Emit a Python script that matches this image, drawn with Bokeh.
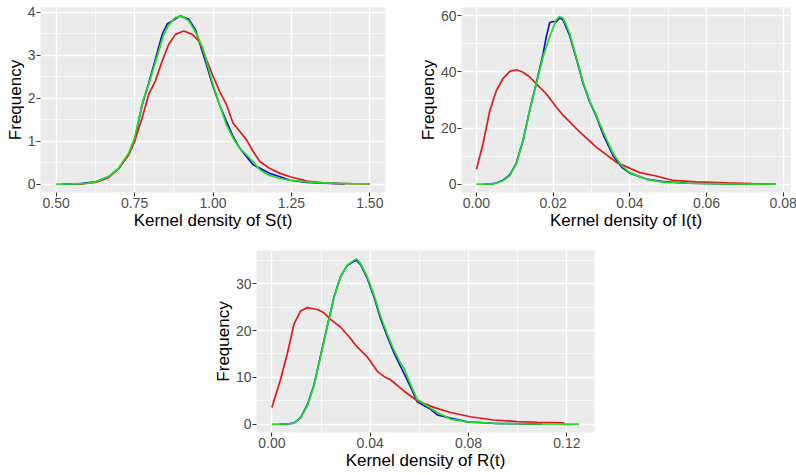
from bokeh.plotting import figure
from bokeh.models import Range1d, FixedTicker, Spacer
from bokeh.layouts import column, row
from bokeh.embed import file_html
from bokeh.resources import INLINE

# ---------------- data: S(t) ----------------
s_x_blue = [0.52, 0.58, 0.624, 0.667, 0.699, 0.731, 0.75, 0.774, 0.795, 0.816, 0.838, 0.854, 0.87, 0.895,
            0.923, 0.944, 0.957, 0.979, 1.0, 1.021, 1.043, 1.064, 1.085, 1.107, 1.128, 1.15, 1.18, 1.214,
            1.246, 1.30, 1.35, 1.42]
s_y_blue = [0, 0.01, 0.05, 0.17, 0.36, 0.70, 1.02, 1.85, 2.35, 2.9, 3.49, 3.73, 3.80, 3.92,
            3.84, 3.60, 3.30, 2.79, 2.28, 1.85, 1.46, 1.11, 0.84, 0.64, 0.45, 0.37, 0.25, 0.17,
            0.09, 0.04, 0.02, 0.005]
s_x_red = [0.57, 0.60, 0.625, 0.667, 0.699, 0.731, 0.75, 0.774, 0.795, 0.816, 0.838, 0.859, 0.88, 0.907,
           0.934, 0.957, 0.979, 1.0, 1.021, 1.043, 1.064, 1.085, 1.107, 1.128, 1.15, 1.18, 1.214, 1.246,
           1.30, 1.35, 1.40, 1.45, 1.50]
s_y_red = [0, 0.02, 0.04, 0.15, 0.36, 0.68, 0.99, 1.54, 2.09, 2.40, 2.87, 3.26, 3.49, 3.57,
           3.49, 3.32, 2.9, 2.52, 2.16, 1.85, 1.42, 1.23, 1.03, 0.76, 0.52, 0.37, 0.25, 0.17,
           0.07, 0.03, 0.015, 0.008, 0.004]
s_x_green = [0.50, 0.55, 0.60, 0.624, 0.667, 0.699, 0.731, 0.75, 0.763, 0.779, 0.795, 0.811, 0.827, 0.843,
             0.859, 0.88, 0.90, 0.923, 0.944, 0.966, 0.979, 1.0, 1.021, 1.043, 1.064, 1.085, 1.107, 1.128,
             1.15, 1.18, 1.214, 1.246, 1.30, 1.35, 1.40, 1.45, 1.50]
s_y_green = [0, 0.003, 0.015, 0.05, 0.17, 0.37, 0.72, 1.07, 1.5, 2.0, 2.32, 2.71, 3.10, 3.49,
             3.71, 3.88, 3.92, 3.80, 3.55, 3.20, 2.87, 2.32, 1.85, 1.38, 1.07, 0.84, 0.68, 0.52,
             0.33, 0.2, 0.13, 0.09, 0.05, 0.03, 0.015, 0.008, 0.003]

# ---------------- data: I(t) ----------------
i_x_blue = [0.002, 0.004, 0.0052, 0.0069, 0.0087, 0.0104, 0.0122, 0.0139, 0.0156, 0.0174, 0.0182, 0.0191,
            0.0200, 0.0208, 0.0217, 0.0226, 0.0243, 0.026, 0.0278, 0.0295, 0.0313, 0.0331, 0.0357, 0.0379,
            0.04, 0.0443, 0.0487, 0.055, 0.065, 0.072]
i_y_blue = [0, 0.05, 0.4, 1.4, 3.3, 7.5, 15.8, 26.5, 36.0, 46.5, 52.5, 57.6,
            58.0, 57.9, 59.3, 58.5, 53.0, 45.0, 36.0, 29.5, 24.0, 17.5, 10.0, 6.0,
            3.9, 1.8, 0.9, 0.3, 0.1, 0.0]
i_x_red = [0, 0.0017, 0.0035, 0.0052, 0.0069, 0.0087, 0.0104, 0.012, 0.0139, 0.0156, 0.0182, 0.0208,
           0.0227, 0.0270, 0.0314, 0.0366, 0.0426, 0.0469, 0.0513, 0.0574, 0.0652, 0.072, 0.078]
i_y_red = [5.3, 14.3, 26.3, 33.4, 37.6, 40.2, 40.8, 40.0, 38.2, 35.8, 32.2, 27.5,
           24.4, 18.5, 13.0, 7.7, 4.1, 2.9, 1.3, 0.8, 0.4, 0.15, 0.05]
i_x_green = [0, 0.004, 0.0052, 0.0069, 0.0087, 0.0104, 0.0122, 0.0139, 0.0156, 0.0174, 0.0191, 0.0208,
             0.0217, 0.0226, 0.0243, 0.026, 0.0278, 0.0295, 0.0313, 0.0331, 0.0357, 0.0379, 0.04, 0.0443,
             0.0487, 0.055, 0.065, 0.078]
i_y_green = [0, 0.05, 0.3, 1.2, 3.0, 7.2, 15.6, 26.3, 35.8, 45.4, 52.6, 58.6,
             59.8, 59.2, 53.8, 45.4, 36.4, 29.8, 24.4, 18.5, 10.7, 6.5, 4.1, 1.7,
             0.7, 0.3, 0.1, 0.0]

# ---------------- data: R(t) ----------------
r_x_blue = [0.003, 0.006, 0.009, 0.0117, 0.0144, 0.0171, 0.0198, 0.0225, 0.0253, 0.028, 0.0307, 0.0334,
            0.0345, 0.0361, 0.0388, 0.0415, 0.0442, 0.0469, 0.0497, 0.0524, 0.0537, 0.0564, 0.0591, 0.0646,
            0.0673, 0.0727, 0.0795, 0.09, 0.11]
r_y_blue = [0, 0.05, 0.25, 1.4, 4.1, 8.3, 14.6, 20.9, 27.2, 31.6, 33.9, 34.8,
            35.0, 34.1, 31.2, 27.3, 22.6, 18.8, 15.2, 12.3, 10.9, 8.0, 4.8, 3.2,
            2.0, 1.3, 0.5, 0.2, 0.0]
r_x_red = [0, 0.0035, 0.0063, 0.009, 0.0117, 0.0144, 0.0185, 0.0212, 0.0239, 0.028, 0.032, 0.0347,
           0.0388, 0.0429, 0.0456, 0.0483, 0.0537, 0.0591, 0.0659, 0.0727, 0.0808, 0.0903, 0.0998, 0.108,
           0.119]
r_y_red = [3.57, 9.5, 15.1, 21.4, 24.2, 24.9, 24.5, 23.8, 22.4, 20.7, 18.3, 16.5,
           14.4, 11.3, 10.2, 9.5, 7.1, 5.0, 3.6, 2.5, 1.6, 0.9, 0.56, 0.42,
           0.28]
r_x_green = [0, 0.006, 0.009, 0.0117, 0.0144, 0.0171, 0.0198, 0.0225, 0.0253, 0.028, 0.0307, 0.0334,
             0.0345, 0.0361, 0.0388, 0.0415, 0.0442, 0.0469, 0.0497, 0.0524, 0.0537, 0.0564, 0.0591, 0.0632,
             0.0673, 0.0727, 0.0795, 0.09, 0.105, 0.125]
r_y_green = [0, 0.05, 0.2, 1.3, 3.9, 8.1, 14.4, 20.7, 27.0, 31.5, 34.0, 35.0,
             35.3, 34.3, 31.5, 27.7, 23.1, 19.3, 15.8, 13.0, 12.0, 8.5, 5.3, 3.9,
             2.5, 1.1, 0.5, 0.2, 0.05, 0.0]

# ---------------- ticks ----------------
s_xticks = [0.5, 0.75, 1.0, 1.25, 1.5]
s_xlabels = ["0.50", "0.75", "1.00", "1.25", "1.50"]
s_xminor = [0.625, 0.875, 1.125, 1.375]
s_yticks = [0, 1, 2, 3, 4]
s_yminor = [0.5, 1.5, 2.5, 3.5]

i_xticks = [0.0, 0.02, 0.04, 0.06, 0.08]
i_xlabels = ["0.00", "0.02", "0.04", "0.06", "0.08"]
i_xminor = [0.01, 0.03, 0.05, 0.07]
i_yticks = [0, 20, 40, 60]
i_yminor = [10, 30, 50]

r_xticks = [0.0, 0.04, 0.08, 0.12]
r_xlabels = ["0.00", "0.04", "0.08", "0.12"]
r_xminor = [0.02, 0.06, 0.10]
r_yticks = [0, 10, 20, 30]
r_yminor = [5, 15, 25, 35]

BLUE = "#1010D8"
RED = "#E3191C"
GREEN = "#1EE01E"
FONT = "Liberation Sans"


def panel(xr, yr, xt, xl, xm, yt, ym, xlabel, fw, fh, bl, br, bt, bb, series):
    p = figure(frame_width=fw, frame_height=fh, x_range=Range1d(*xr), y_range=Range1d(*yr),
               output_backend="svg", toolbar_location=None,
               min_border_left=bl, min_border_right=br, min_border_top=bt, min_border_bottom=bb)
    p.background_fill_color = "#EBEBEB"
    p.border_fill_color = "white"
    p.outline_line_color = None
    xtk = FixedTicker(ticks=xt, minor_ticks=xm)
    ytk = FixedTicker(ticks=yt, minor_ticks=ym)
    p.xaxis.ticker = xtk
    p.yaxis.ticker = ytk
    p.xgrid.ticker = xtk
    p.ygrid.ticker = ytk
    p.xaxis.major_label_overrides = {v: s for v, s in zip(xt, xl)}
    for g in (p.xgrid, p.ygrid):
        g.grid_line_color = "white"
        g.grid_line_width = 1.4
        g.minor_grid_line_color = "white"
        g.minor_grid_line_width = 0.7
    for ax in (p.xaxis, p.yaxis):
        ax.axis_line_color = None
        ax.major_tick_line_color = "#333333"
        ax.major_tick_out = 4
        ax.major_tick_in = 0
        ax.minor_tick_out = 0
        ax.minor_tick_in = 0
        ax.major_label_text_font = FONT
        ax.major_label_text_font_size = "14px"
        ax.major_label_text_color = "#4D4D4D"
        ax.major_label_standoff = 1
        ax.axis_label_text_font = FONT
        ax.axis_label_text_font_size = "17px"
        ax.axis_label_text_font_style = "normal"
        ax.axis_label_text_color = "black"
        ax.axis_label_standoff = 0
    p.xaxis.axis_label = xlabel
    p.yaxis.axis_label = "Frequency"
    for xs, ys, c in series:
        p.line(xs, ys, line_color=c, line_width=1.7)
    return p


pA = panel((0.45, 1.55), (-0.196, 4.116), s_xticks, s_xlabels, s_xminor, s_yticks, s_yminor,
           "Kernel density of S(t)", 345, 185, 40, 30, 7, 42,
           [(s_x_blue, s_y_blue, BLUE), (s_x_red, s_y_red, RED), (s_x_green, s_y_green, GREEN)])
pB = panel((-0.0039, 0.0819), (-3.0, 63.0), i_xticks, i_xlabels, i_xminor, i_yticks, i_yminor,
           "Kernel density of I(t)", 329, 185, 43, 9, 7, 42,
           [(i_x_blue, i_y_blue, BLUE), (i_x_red, i_y_red, RED), (i_x_green, i_y_green, GREEN)])
pC = panel((-0.00625, 0.13125), (-1.77, 37.1), r_xticks, r_xlabels, r_xminor, r_yticks, r_yminor,
           "Kernel density of R(t)", 338, 182, 43, 9, 16, 36,
           [(r_x_blue, r_y_blue, BLUE), (r_x_red, r_y_red, RED), (r_x_green, r_y_green, GREEN)])

layout = column(row(pA, pB), row(Spacer(width=210, height=10), pC))

open("out.html", "w").write(file_html(layout, INLINE))
